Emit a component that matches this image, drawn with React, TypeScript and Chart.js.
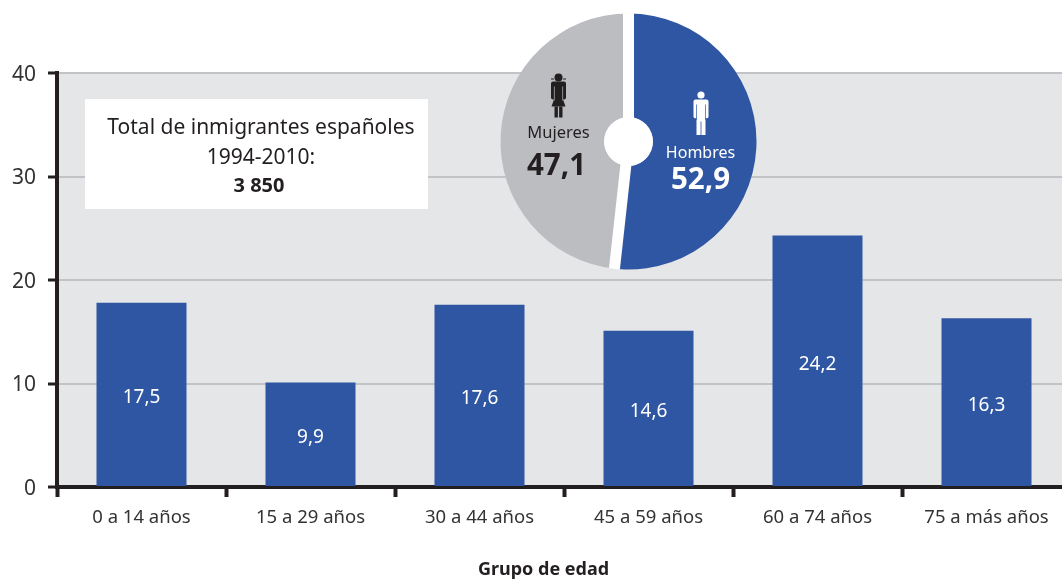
import React, { useEffect, useRef } from "react";
import { Chart, registerables } from "chart.js";

Chart.register(...registerables);

const categories = ["0 a 14 años", "15 a 29 años", "30 a 44 años", "45 a 59 años", "60 a 74 años", "75 a más años"];
// bar heights as drawn in the picture
const barHeights = [17.8, 10.1, 17.6, 15.1, 24.3, 16.3];
// numbers printed on the bars
const barLabels = ["17,5", "9,9", "17,6", "14,6", "24,2", "16,3"];
const yTicks = [0, 10, 20, 30, 40];
const sexes = ["Hombres", "Mujeres"];
// slice shares as drawn in the picture
const sexShares = [51.75, 48.25];
const sexLabels = ["52,9", "47,1"];
const boxLines = ["Total de inmigrantes españoles", "1994-2010:", "3 850"];
const xTitle = "Grupo de edad";

const FONT = "'Noto Sans'";
const INK = "#231F20";
const BLUE = "#2F56A3";
const GREY = "#BBBDC1";

const barPlugin = {
  id: "barExtras",
  beforeDraw(chart: any) {
    const { ctx, chartArea: a } = chart;
    ctx.save();
    ctx.fillStyle = "#E5E6E8";
    ctx.fillRect(a.left, a.top, a.right - a.left, a.bottom - a.top);
    ctx.restore();
  },
  afterDatasetsDraw(chart: any) {
    const { ctx } = chart;
    const meta = chart.getDatasetMeta(0);
    ctx.save();
    ctx.textAlign = "center";
    ctx.textBaseline = "middle";
    ctx.fillStyle = "#FFFFFF";
    ctx.font = `19px ${FONT}`;
    meta.data.forEach((bar: any, i: number) => {
      ctx.fillText(barLabels[i], bar.x, (bar.y + bar.base) / 2 + 3.5);
    });
    ctx.fillStyle = "#FFFFFF";
    ctx.fillRect(85, 99, 343, 110);
    ctx.fillStyle = INK;
    ctx.font = `21px ${FONT}`;
    ctx.fillText(boxLines[0], 261, 128.5);
    ctx.fillText(boxLines[1], 261, 158.5);
    ctx.font = `bold 20px ${FONT}`;
    ctx.fillText(boxLines[2], 259, 186);
    ctx.font = `bold 18px ${FONT}`;
    ctx.fillText(xTitle, 543.5, 570);
    ctx.restore();
  },
};

function drawMan(ctx: any, x: number, y: number) {
  ctx.beginPath();
  ctx.arc(x, y - 26.5, 3.6, 0, Math.PI * 2);
  ctx.fill();
  ctx.beginPath();
  ctx.roundRect(x - 7.5, y - 22, 15, 19, 2);
  ctx.fill();
  ctx.fillRect(x - 4.5, y - 4, 9, 17.5);
  ctx.save();
  ctx.fillStyle = BLUE;
  ctx.fillRect(x - 4.8, y - 17, 0.7, 15);
  ctx.fillRect(x + 4.1, y - 17, 0.7, 15);
  ctx.fillRect(x - 7.5, y - 3, 3, 1);
  ctx.fillRect(x + 4.5, y - 3, 3, 1);
  ctx.fillRect(x - 0.4, y - 0, 0.8, 14);
  ctx.restore();
}

function drawWoman(ctx: any, x: number, y: number) {
  ctx.beginPath();
  ctx.arc(x, y - 21, 4, 0, Math.PI * 2);
  ctx.fill();
  ctx.fillRect(x - 7.5, y - 20, 3, 1);
  ctx.fillRect(x + 4.5, y - 20, 3, 1);
  ctx.beginPath();
  ctx.roundRect(x - 7.5, y - 17, 15, 18, 2);
  ctx.fill();
  ctx.beginPath();
  ctx.moveTo(x - 4.2, y);
  ctx.lineTo(x + 4.2, y);
  ctx.lineTo(x + 7, y + 8);
  ctx.lineTo(x - 7, y + 8);
  ctx.closePath();
  ctx.fill();
  ctx.fillRect(x - 4, y + 8, 3.4, 11);
  ctx.fillRect(x + 0.6, y + 8, 3.4, 11);
  ctx.save();
  ctx.fillStyle = GREY;
  ctx.fillRect(x - 4.6, y - 12, 0.7, 14);
  ctx.fillRect(x + 3.9, y - 12, 0.7, 14);
  ctx.restore();
}

const piePlugin = {
  id: "pieExtras",
  afterDatasetsDraw(chart: any) {
    const { ctx } = chart;
    const arcs = chart.getDatasetMeta(0).data;
    const arc = arcs[0];
    const cx = arc.x;
    const cy = arc.y;
    const R = arc.outerRadius;
    ctx.save();
    // parallel-sided white gaps between the slices, and the white hub
    ctx.save();
    ctx.beginPath();
    ctx.arc(cx, cy, R + 0.5, 0, Math.PI * 2);
    ctx.clip();
    ctx.strokeStyle = "#FFFFFF";
    ctx.lineWidth = 11;
    arcs.forEach((a: any) => {
      ctx.beginPath();
      ctx.moveTo(cx, cy);
      ctx.lineTo(cx + Math.cos(a.startAngle) * (R + 4), cy + Math.sin(a.startAngle) * (R + 4));
      ctx.stroke();
    });
    ctx.fillStyle = "#FFFFFF";
    ctx.beginPath();
    ctx.arc(cx, cy, arc.innerRadius, 0, Math.PI * 2);
    ctx.fill();
    ctx.restore();

    ctx.textAlign = "center";
    ctx.textBaseline = "middle";
    ctx.fillStyle = "#FFFFFF";
    drawMan(ctx, cx + 72.5, cy - 20);
    ctx.font = `16px ${FONT}`;
    ctx.fillText(sexes[0], cx + 72, cy + 12);
    ctx.font = `bold 29.5px ${FONT}`;
    ctx.fillText(sexLabels[0], cx + 72, cy + 39);
    ctx.fillStyle = INK;
    drawWoman(ctx, cx - 70, cy - 43);
    ctx.font = `16.5px ${FONT}`;
    ctx.fillText(sexes[1], cx - 70, cy - 8);
    ctx.font = `bold 29.5px ${FONT}`;
    ctx.fillText(sexLabels[1], cx - 72, cy + 25.5);
    ctx.restore();
  },
};

export default function App() {
  const barRef = useRef<HTMLCanvasElement>(null);
  const pieRef = useRef<HTMLCanvasElement>(null);

  useEffect(() => {
    const bar = new Chart(barRef.current as any, {
      type: "bar",
      data: {
        labels: categories,
        datasets: [
          {
            data: barHeights,
            backgroundColor: BLUE,
            barPercentage: 90 / 169,
            categoryPercentage: 1,
          },
        ],
      },
      options: {
        animation: false,
        responsive: false,
        layout: { padding: { top: 73, right: 9, left: 0, bottom: 0 } },
        plugins: { legend: { display: false }, tooltip: { enabled: false } },
        scales: {
          x: {
            afterFit(s: any) {
              s.height = 92;
            },
            border: { color: INK, width: 4 },
            grid: {
              drawOnChartArea: false,
              tickColor: INK,
              tickWidth: 4,
              tickLength: 10,
            },
            ticks: {
              color: "#333333",
              font: { family: "Noto Sans", size: 18.5 },
              padding: 10,
              maxRotation: 0,
              autoSkip: false,
            },
          },
          y: {
            min: 0,
            max: 40,
            afterFit(s: any) {
              s.width = 57;
            },
            afterBuildTicks(s: any) {
              s.ticks = yTicks.map((v) => ({ value: v }));
            },
            border: { color: INK, width: 4 },
            grid: {
              color: "#C2C3C6",
              lineWidth: 2,
              tickColor: INK,
              tickWidth: 3,
              tickLength: 9,
            },
            ticks: {
              color: "#333333",
              font: { family: "Noto Sans", size: 21 },
              padding: 12,
              labelOffset: 2,
            },
          },
        },
      } as any,
      plugins: [barPlugin],
    });

    const pie = new Chart(pieRef.current as any, {
      type: "doughnut",
      data: {
        labels: sexes,
        datasets: [
          {
            data: sexShares,
            backgroundColor: [BLUE, GREY],
            borderWidth: 0,
          },
        ],
      },
      options: {
        animation: false,
        responsive: false,
        radius: 128,
        cutout: 27,
        plugins: { legend: { display: false }, tooltip: { enabled: false } },
      } as any,
      plugins: [piePlugin],
    });

    return () => {
      bar.destroy();
      pie.destroy();
    };
  }, []);

  return (
    <div style={{ position: "fixed", left: 0, top: 0, width: 1062, height: 579, overflow: "hidden", background: "#fff" }}>
      <canvas ref={barRef} width={1080} height={579} style={{ position: "absolute", left: 0, top: 0 }} />
      <canvas ref={pieRef} width={299} height={283} style={{ position: "absolute", left: 479, top: 0 }} />
    </div>
  );
}
